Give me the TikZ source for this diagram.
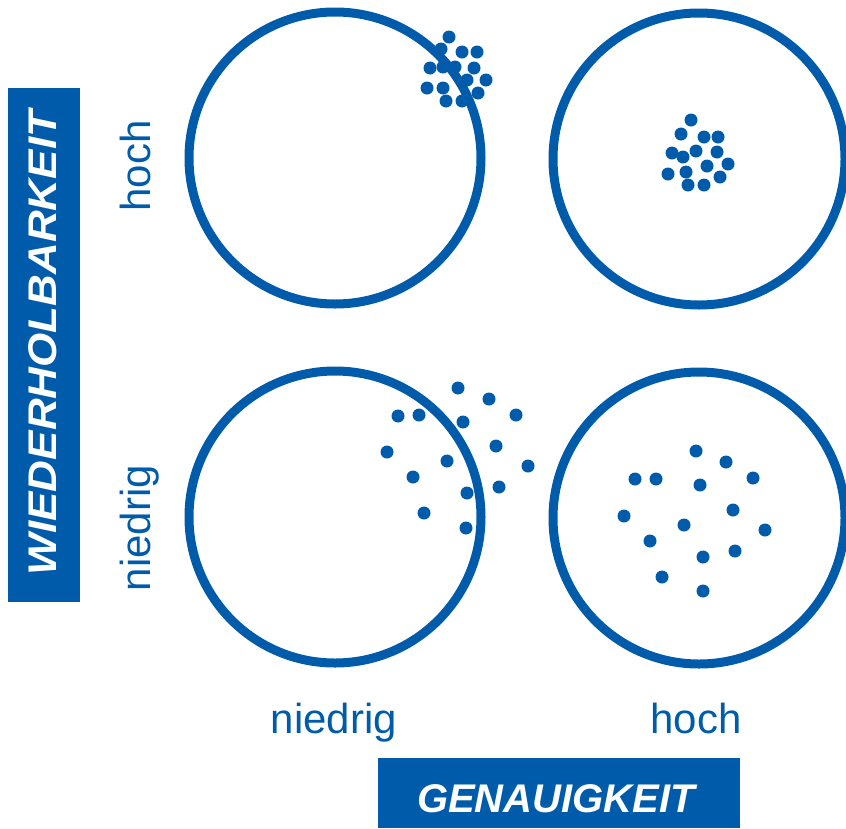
\documentclass[tikz,border=0pt]{standalone}
\usepackage{fontspec}
\setmainfont{Liberation Sans}
\definecolor{accblue}{RGB}{0,92,170}
\begin{document}
\begin{tikzpicture}[x=1pt,y=-1pt,
  target/.style={draw=accblue,line width=9pt,circle,minimum size=292pt,inner sep=0pt},
  hit/.style={fill=accblue},
  axislabel/.style={text=accblue,font=\fontsize{42}{46}\selectfont,inner sep=0pt,anchor=base},
  titlebox/.style={fill=accblue,inner sep=0pt},
  titletext/.style={text=white,font=\fontsize{40}{44}\selectfont\bfseries\itshape,inner sep=0pt,anchor=base}]
\useasboundingbox (0,0) rectangle (846,828);
% targets
\node[target] (tl) at (335,158) {};
\node[target] (tr) at (699,159) {};
\node[target] (bl) at (335,517) {};
\node[target] (br) at (699,518) {};
% dots
\def\r{6.5}
\foreach \x/\y in {449/37,441/49,462/52,477/52,430/68,443/67,455/67,474/68,467/80,486/80,427/88,443/88,478/93,446/101,462/101}
  \fill[hit] (\x,\y) circle (\r);
\foreach \x/\y in {691/120,681/134,704/137,718/137,672/153,683/157,696/151,717/152,707/166,728/164,668/174,686/172,720/177,688/185,704/185}
  \fill[hit] (\x,\y) circle (\r);
\foreach \x/\y in {458/388,489/399,398/416,419/415,463/422,516/415,387/452,496/446,447/461,528/466,413/477,467/493,499/487,424/513,466/528}
  \fill[hit] (\x,\y) circle (\r);
\foreach \x/\y in {696/451,726/462,635/479,656/479,700/485,753/478,624/516,733/510,684/525,765/530,650/541,703/557,735/551,662/577,703/591}
  \fill[hit] (\x,\y) circle (\r);
% labels
\node[axislabel,rotate=90] (lhoch) at (150,166) {hoch};
\node[axislabel,rotate=90] (lnied) at (150,528) {niedrig};
\node[axislabel] (bnied) at (334,733) {niedrig};
\node[axislabel] (bhoch) at (696,733) {hoch};
% title boxes
\fill[titlebox] (8,88) rectangle (80,602);
\node[titletext,rotate=90] (wied) at (56,343) {\scalebox{1.1}[1]{WIEDERHOLBARKEIT}};
\fill[titlebox] (378,758) rectangle (740,828);
\node[titletext] (gen) at (556,812) {GENAUIGKEIT};
\end{tikzpicture}
\end{document}
